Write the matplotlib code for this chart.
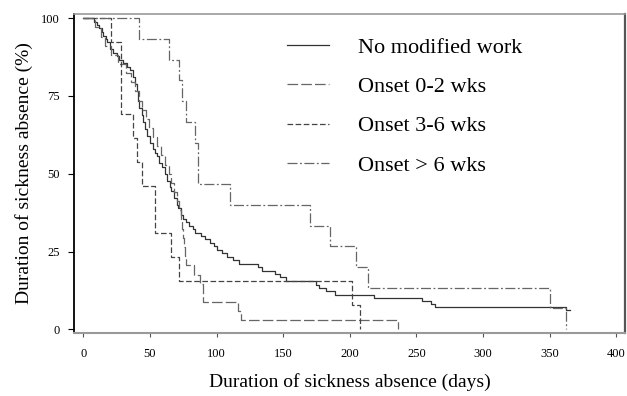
import numpy as np
import matplotlib.pyplot as plt

plt.rcParams['font.family'] = ['Liberation Serif', 'DejaVu Serif']

# Kaplan-Meier type curves: (days, % still absent)
no_mod_days = [0, 8, 10, 12, 14, 15, 17, 18, 20, 22, 25, 27, 30, 33, 35, 37, 39, 40, 41,
               42, 44, 45, 46, 48, 50, 52, 54, 55, 57, 59, 61, 63, 65, 66, 68, 70, 71,
               73, 75, 77, 79, 82, 84, 88, 91, 95, 98, 100, 104, 108, 112, 117, 131,
               134, 144, 148, 152, 175, 177, 182, 189, 218, 254, 261, 264, 362, 365]
no_mod_pct = [100, 98.9, 97.8, 96.7, 95.6, 94.4, 93.3, 92.2, 90.0, 88.9, 87.8, 86.7,
              85.6, 84.4, 83.3, 81.1, 78.9, 76.7, 73.3, 71.1, 68.9, 66.7, 64.4, 62.2,
              60.0, 57.8, 56.7, 55.6, 53.3, 52.2, 50.0, 47.8, 45.6, 44.4, 42.2, 40.0,
              38.9, 36.7, 35.6, 34.4, 33.3, 32.2, 31.1, 30.0, 28.9, 27.8, 26.7, 25.6,
              24.4, 23.3, 22.2, 21.1, 20.0, 18.9, 17.8, 16.7, 15.6, 14.4, 13.3, 12.2,
              11.1, 10.0, 9.0, 8.2, 7.3, 6.2, 6.2]

on02_days = [0, 9, 13, 16, 21, 26, 32, 36, 39, 42, 44, 47, 49, 52, 55, 58, 61, 64, 66,
             68, 70, 72, 73, 74, 75, 75.5, 76, 77, 83, 87.5, 89.5, 116, 118.5, 236.5]
on02_pct = [100, 97.1, 94.1, 91.2, 88.2, 85.3, 82.4, 79.4, 76.5, 73.5, 70.6, 67.6, 64.7,
            61.8, 58.8, 55.9, 52.9, 50.0, 47.1, 44.1, 41.2, 38.2, 35.3, 32.4, 29.4, 26.5,
            23.5, 20.6, 17.6, 14.7, 8.8, 5.9, 2.9, 0]

on36_days = [0, 20.5, 28.5, 37.5, 40.5, 44, 54, 66, 72, 201.5, 208]
on36_pct = [100, 92.3, 69.2, 61.5, 53.8, 46.2, 30.8, 23.1, 15.4, 7.7, 0]

on6_days = [0, 42, 64, 72, 74.3, 77, 83.6, 85.8, 110, 170, 185, 205, 213.5, 350, 362]
on6_pct = [100, 93.3, 86.7, 80.0, 73.3, 66.7, 60.0, 46.7, 40.0, 33.3, 26.7, 20.0,
           13.3, 6.7, 0]

labels = ["No modified work", "Onset 0-2 wks", "Onset 3-6 wks", "Onset > 6 wks"]

fig = plt.figure(figsize=(6.27, 3.96), dpi=100)
ax = fig.add_axes([0.118, 0.159, 0.879, 0.806])

ax.step(no_mod_days, no_mod_pct, where="post", color="#333333", lw=0.9,
        label=labels[0])
ax.step(on02_days, on02_pct, where="post", color="#666666", lw=0.9,
        ls=(0, (8.5, 2.5)), label=labels[1])
ax.step(on36_days, on36_pct, where="post", color="#444444", lw=0.9,
        ls=(0, (4.5, 2)), label=labels[2])
ax.step(on6_days, on6_pct, where="post", color="#666666", lw=0.9,
        ls=(0, (8, 2, 1.5, 2)), label=labels[3])

ax.set_xlim(-7, 406.7)
ax.set_ylim(-1.2, 101.4)
ax.set_xticks(np.arange(0, 401, 50))
ax.set_yticks([0, 25, 50, 75, 100])
ax.tick_params(axis="x", length=3, pad=8, labelsize=9, color="#555555")
ax.tick_params(axis="y", length=4, pad=6, labelsize=9)

ax.spines["left"].set_color("black")
ax.spines["left"].set_linewidth(1.3)
ax.spines["bottom"].set_color("#999999")
ax.spines["bottom"].set_linewidth(1.5)
ax.spines["top"].set_color("#999999")
ax.spines["top"].set_linewidth(1.2)
ax.spines["right"].set_color("#555555")
ax.spines["right"].set_linewidth(1.6)

ax.set_xlabel("Duration of sickness absence (days)", fontsize=14, labelpad=9)
ax.set_ylabel("Duration of sickness absence (%)", fontsize=14, labelpad=6)

ax.legend(loc="upper left", bbox_to_anchor=(0.35, 0.99), frameon=False,
          fontsize=16, handlelength=1.9, handletextpad=1.3, labelspacing=0.85)

fig.savefig("out.png", dpi=100)
